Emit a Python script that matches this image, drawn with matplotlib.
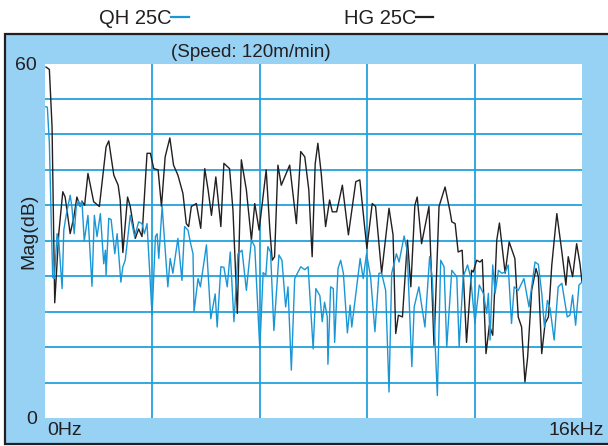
import matplotlib
matplotlib.use("Agg")
import matplotlib.pyplot as plt
from matplotlib.patches import Rectangle
from matplotlib.lines import Line2D

plt.rcParams["font.family"] = ["Liberation Sans", "DejaVu Sans"]

# HG 25C (black) - frequency in kHz, magnitude in dB
hg_freq = [0.03, 0.13, 0.21, 0.29, 0.41, 0.53, 0.60, 0.75, 0.86, 0.95, 1.05, 1.10, 1.18, 1.28,
           1.45, 1.62, 1.82, 1.90, 2.05, 2.18, 2.24, 2.32, 2.46, 2.54, 2.69, 2.79, 2.89, 3.04,
           3.14, 3.24, 3.37, 3.47, 3.58, 3.72, 3.83, 3.96, 4.11, 4.21, 4.28, 4.36, 4.51, 4.64,
           4.76, 4.86, 4.96, 5.09, 5.24, 5.33, 5.50, 5.60, 5.73, 5.85, 6.00, 6.15, 6.25, 6.38,
           6.59, 6.70, 6.77, 6.84, 6.94, 7.04, 7.29, 7.49, 7.62, 7.74, 7.86, 7.96, 8.05, 8.13,
           8.23, 8.36, 8.48, 8.56, 8.69, 8.86, 9.04, 9.26, 9.38, 9.59, 9.75, 9.85, 10.03, 10.25,
           10.37, 10.45, 10.53, 10.65, 10.80, 10.90, 11.02, 11.09, 11.22, 11.44, 11.59, 11.74,
           11.92, 12.07, 12.12, 12.22, 12.31, 12.43, 12.56, 12.71, 12.76, 12.86, 12.96, 13.03,
           13.14, 13.24, 13.34, 13.46, 13.54, 13.71, 13.83, 14.00, 14.10, 14.20, 14.30, 14.38,
           14.50, 14.63, 14.70, 14.80, 14.90, 15.00, 15.10, 15.25, 15.40, 15.52, 15.59, 15.72,
           15.84, 15.94, 16.00]
hg_mag = [59.4, 59.0, 49.3, 19.5, 31.2, 38.3, 37.4, 31.2, 34.0, 37.4, 35.8, 36.7, 36.0, 41.4,
          36.6, 35.8, 45.9, 46.9, 41.1, 39.4, 36.9, 28.0, 37.4, 35.8, 30.4, 32.0, 30.7, 44.8,
          44.8, 42.2, 42.0, 35.8, 44.2, 47.4, 42.8, 41.1, 38.0, 32.9, 32.4, 35.8, 36.3, 32.1,
          42.2, 38.6, 34.3, 40.8, 32.4, 43.1, 42.2, 35.2, 17.7, 43.7, 38.6, 30.1, 36.3, 31.8,
          42.0, 31.8, 26.7, 27.3, 42.8, 39.4, 42.8, 32.9, 45.1, 44.2, 38.6, 27.3, 43.0, 46.5,
          41.4, 32.4, 36.9, 34.9, 34.9, 39.4, 31.0, 40.0, 40.3, 28.7, 36.3, 35.8, 24.5, 35.5,
          31.0, 14.3, 17.4, 17.1, 30.1, 22.2, 36.0, 37.4, 29.5, 35.8, 12.3, 35.8,
          39.1, 34.9, 33.2, 32.9, 28.1, 28.4, 12.8, 25.0, 24.7, 26.7, 26.4, 26.8,
          10.9, 15.7, 14.0, 30.1, 33.0, 24.5, 29.8, 27.0, 17.1, 15.4, 6.1, 10.3,
          21.6, 25.3, 23.9, 10.9, 16.0, 17.1, 25.9, 34.6, 28.1, 22.5, 27.3, 23.9,
          29.5, 26.1, 23.0]

# QH 25C (blue)
qh_freq = [0.01, 0.07, 0.13, 0.19, 0.23, 0.28, 0.36, 0.41, 0.51, 0.56, 0.63, 0.75, 0.80, 0.87,
           0.93, 1.00, 1.05, 1.10, 1.17, 1.28, 1.40, 1.47, 1.55, 1.65, 1.75, 1.80, 1.82, 1.90,
           1.97, 2.08, 2.15, 2.26, 2.32, 2.39, 2.54, 2.67, 2.79, 2.89, 2.96, 3.04, 3.19, 3.29,
           3.34, 3.39, 3.49, 3.66, 3.73, 3.81, 3.96, 4.08, 4.16, 4.26, 4.34, 4.41, 4.44, 4.56,
           4.63, 4.81, 4.94, 5.07, 5.13, 5.24, 5.33, 5.43, 5.52, 5.63, 5.75, 5.87, 6.00, 6.15,
           6.25, 6.40, 6.50, 6.58, 6.64, 6.72, 6.82, 6.97, 7.06, 7.17, 7.24, 7.34, 7.44, 7.62,
           7.74, 7.84, 7.99, 8.07, 8.19, 8.26, 8.33, 8.41, 8.43, 8.51, 8.59, 8.63, 8.73, 8.81,
           8.89, 9.01, 9.09, 9.14, 9.39, 9.48, 9.58, 9.70, 9.83, 9.95, 10.03, 10.15, 10.25,
           10.33, 10.47, 10.55, 10.70, 10.79, 10.93, 11.00, 11.14, 11.32, 11.46, 11.54, 11.69,
           11.79, 11.89, 11.97, 12.12, 12.27, 12.34, 12.46, 12.59, 12.68, 12.81, 12.94, 13.06,
           13.16, 13.21, 13.26, 13.34, 13.41, 13.51, 13.61, 13.71, 13.80, 13.90, 13.98, 14.10,
           14.27, 14.42, 14.60, 14.70, 14.80, 14.88, 14.97, 15.05, 15.17, 15.29, 15.40, 15.56,
           15.64, 15.72, 15.81, 15.91, 16.00]
qh_mag = [52.7, 52.6, 46.5, 32.4, 23.8, 23.6, 31.2, 30.0, 21.9, 31.8, 34.3, 37.7, 35.8, 31.2,
          35.8, 36.7, 35.8, 36.7, 30.0, 34.3, 22.3, 34.3, 30.7, 34.6, 26.1, 28.4, 24.2, 33.8,
          33.6, 27.8, 31.2, 23.0, 25.6, 26.7, 34.3, 30.7, 33.2, 32.9, 31.2, 32.9, 17.4, 30.7,
          31.2, 27.0, 35.8, 22.2, 27.0, 24.5, 30.4, 23.3, 32.4, 31.8, 29.5, 27.8, 18.0, 23.6,
          22.2, 29.3, 16.8, 21.0, 15.4, 25.6, 25.5, 22.2, 28.1, 16.3, 27.8, 28.4, 21.6, 30.1,
          29.0, 11.7, 24.6, 24.2, 29.0, 28.1, 14.8, 27.6, 26.7, 18.8, 22.2, 8.1, 23.6, 25.6,
          25.1, 25.6, 11.7, 21.9, 20.7, 16.3, 19.6, 17.1, 9.1, 22.2, 21.9, 12.8, 25.3, 26.7,
          24.5, 14.4, 19.1, 15.4, 27.0, 23.6, 27.8, 23.9, 14.6, 24.5, 24.5, 21.6, 4.4,
          24.5, 27.8, 26.4, 30.8, 28.4, 8.7, 18.8, 22.2, 15.4, 27.3, 23.6, 3.8,
          26.7, 25.6, 12.0, 25.0, 23.9, 12.0, 23.9, 25.9, 23.9, 16.0, 22.5, 21.1,
          17.7, 21.1, 13.2, 25.9, 21.1, 25.0, 24.5, 24.7, 25.9, 16.0, 22.2, 21.6,
          23.6, 18.8, 26.4, 26.0, 21.1, 15.4, 19.9, 18.5, 13.2, 22.2, 22.8, 17.1,
          17.4, 20.8, 15.7, 22.5, 23.0]

y_ticks = [0, 60]
y_labels = ["0", "60"]
grid_y = [6, 12, 18, 24, 30, 36, 42, 48, 54]
grid_x = [3.2, 6.4, 9.6, 12.8]

panel_blue = "#97d1f3"
grid_blue = "#22a2dc"
line_blue = "#1a96d6"
ink = "#231f20"

fig = plt.figure(figsize=(6.08, 4.46), dpi=100)
fig.patch.set_facecolor("white")

# light blue frame with dark border
fig.patches.append(Rectangle((5 / 608, 2 / 446), 1.05, 1 - 34 / 446 - 2 / 446,
                             transform=fig.transFigure, facecolor=panel_blue,
                             edgecolor=ink, linewidth=1.6, zorder=-5))

ax = fig.add_axes([45 / 608, 1 - 418 / 446, 537 / 608, 354.5 / 446])
ax.set_zorder(2)
ax.set_facecolor("white")
for s in ax.spines.values():
    s.set_visible(False)

for g in grid_y:
    ax.axhline(g, color=grid_blue, lw=1.3, zorder=1)
for g in grid_x:
    ax.axvline(g, color=grid_blue, lw=1.3, zorder=1)

ax.plot(hg_freq, hg_mag, color=ink, lw=1.0, zorder=3)
ax.plot(qh_freq, qh_mag, color=line_blue, lw=1.0, zorder=4)

ax.set_xlim(0, 16)
ax.set_ylim(0, 60)
ax.set_xticks([])
ax.set_yticks(y_ticks)
ax.set_yticklabels(y_labels, fontsize=14, color=ink)
ax.tick_params(axis="y", length=0, pad=6)

ax.set_ylabel("Mag(dB)", fontsize=14, color=ink)
ax.yaxis.set_label_coords(-0.015, 0.527)

ax.annotate("0Hz", xy=(0, 0), xycoords=("data", "axes fraction"), xytext=(1.5, -3),
            textcoords="offset points", ha="left", va="top", fontsize=14, color=ink)
ax.annotate("16kHz", xy=(16, 0), xycoords=("data", "axes fraction"), xytext=(16, -3),
            textcoords="offset points", ha="right", va="top", fontsize=14, color=ink)

ax.text(0.383, 1.008, "(Speed: 120m/min)", transform=ax.transAxes, ha="center",
        va="bottom", fontsize=13.5, color=ink)

handles = [Line2D([], [], color=line_blue, lw=1.6), Line2D([], [], color=ink, lw=1.6)]
fig.legend(handles, ["QH 25C", "HG 25C"], ncol=2, markerfirst=False, frameon=False,
           loc="center", bbox_to_anchor=(266 / 608, 1 - 18.5 / 446), fontsize=14.5,
           handlelength=0.85, handletextpad=0.0, columnspacing=7.7, labelcolor=ink)

fig.savefig("out.png", dpi=100)
